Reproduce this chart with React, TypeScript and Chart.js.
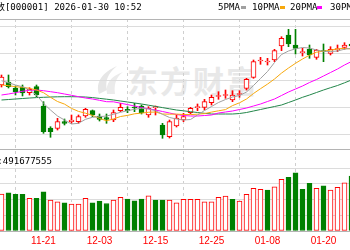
import React, { useEffect, useRef } from 'react';
import { Chart, registerables } from 'chart.js';
Chart.register(...registerables);

const DATES = ['11-13','11-14','11-17','11-18','11-19','11-20','11-21','11-24','11-25','11-26','11-27','11-28','12-01','12-02','12-03','12-04','12-05','12-08','12-09','12-10','12-11','12-12','12-15','12-16','12-17','12-18','12-19','12-22','12-23','12-24','12-25','12-26','12-29','12-30','12-31','01-05','01-06','01-07','01-08','01-09','01-12','01-13','01-14','01-15','01-16','01-19','01-20','01-21','01-22','01-23','01-26'];

const OPEN = [3960,3972,3948,3952,3929.2,3953.2,3876,3788,3786.8,3813.2,3813.2,3813.2,3836,3857.2,3836,3829.2,3820,3857.2,3862.8,3872,3876,3840,3869.2,3800,3753.2,3796,3820,3849.2,3869.2,3870.8,3889.2,3914,3918,3900,3922,3946.8,3990.8,4056,4052,4060,4116,4160,4120,4089.2,4102.8,4070.8,4096,4086.8,4101.6,4110.8,4124];
const HIGH = [4000,4000,3956,3960,3949.2,3960,3893.2,3793.2,3826.8,3824,3840,3840,3866.8,3860,3844,3844,3860,3886.8,3873.2,3886.8,3880,3873.2,3876,3806.8,3820,3840,3846.8,3870.8,3884,3902.8,3920,3933.2,3940,3937.2,3937.2,3986.8,4060,4070.8,4066.8,4102.8,4153.2,4182.8,4182.8,4106.8,4120,4102.8,4124,4113.2,4120,4129.2,4140];
const LOW = [3952,3948,3920,3916,3920,3913.2,3766.8,3750.8,3780,3800,3806.8,3806.8,3830.8,3833.2,3816,3806.8,3813.2,3853.2,3849.2,3853.2,3844,3830.8,3840,3746.8,3748,3792,3813.2,3844,3857.2,3860,3880,3902.8,3906.8,3893.2,3910.8,3940,3986.8,4042.8,4040,4053.2,4097.2,4113.2,4084,4076,4066.8,4062.8,4053.2,4080,4093.2,4102.8,4108];
const CLOSE = [3992,3953.2,3933.2,3928,3942.8,3920,3773.2,3773.2,3813.2,3806.8,3820,3833.2,3862.8,3840,3822.8,3822.8,3849.2,3870.8,3857.2,3868,3849.2,3866.8,3873.2,3760,3813.2,3828,3833.2,3866.8,3872,3893.2,3910.8,3916.8,3920.8,3920,3924.8,3982.8,4053.2,4058,4054,4097.2,4146.8,4124,4106.8,4090.8,4080,4100,4093.2,4102.8,4103.2,4120,4116];
// 1 = closed above the previous close (volume drawn red), 0 = below (green)
const DAY_UP = [1,0,0,0,1,0,0,1,1,0,1,1,1,0,0,0,1,1,0,0,0,1,0,0,1,1,1,1,1,1,1,1,1,0,1,1,1,1,0,1,1,0,0,0,0,1,0,1,1,1,0];

const MA5 = [3977.2,3969.2,3960,3953.2,3940,3920,3886.8,3860,3836,3820,3804,3806.8,3822.8,3830.8,3833.2,3836,3842.8,3850.8,3857.2,3862.8,3866.8,3864,3857.2,3842.8,3830,3824,3820,3822,3840,3858,3874,3890,3902,3912,3918,3932,3958,3986,4014,4050,4082,4096,4104.8,4110,4108,4100,4094.8,4094,4096,4103.2,4106.8];
const MA10 = [3960,3957.2,3953.2,3950.8,3946.8,3940,3929.2,3910.8,3894,3883.6,3866.4,3854.4,3847.2,3838.4,3826.4,3816.8,3824.4,3834,3838.4,3844.8,3847.6,3850.8,3852,3844,3843.2,3843.6,3842,3841.6,3843.2,3845.6,3851.6,3856.8,3861.6,3877.6,3888.8,3904,3926,3945.2,3963.6,3984,4007.6,4028,4046.8,4064,4079.2,4091.2,4095.2,4099.6,4104.4,4106.8,4103.6];
const MA20 = [3920,3924,3929.2,3934.8,3938.8,3940,3937.2,3933.2,3929.2,3924,3918.8,3913.2,3908,3904,3898.8,3893.2,3892.8,3887.2,3881.6,3876,3870,3864.8,3860,3854,3848,3842,3838,3836,3836,3838,3840,3848,3852,3856,3862,3868,3876,3884,3894,3904,3918,3932,3944,3956,3970,3982,3996,4010,4024,4040,4054];
const MA30 = [3900,3902,3904,3906,3908,3909.6,3910.8,3912,3912.8,3913.2,3913.2,3912.8,3912,3909.6,3906.4,3903.2,3900,3896,3892,3888,3884,3879.2,3874.4,3869.6,3864.8,3860,3856.8,3853.2,3850,3846.8,3844,3844,3844,3844,3846,3850,3856,3862,3868,3874,3880,3890,3900,3910.8,3920,3930,3940,3949.2,3958,3968.8,3980];

const VOLUME = [585e6,606e6,581e6,581e6,517e6,517e6,622e6,490e6,463e6,447e6,426e6,426e6,517e6,447e6,474e6,437e6,490e6,533e6,506e6,479e6,506e6,558e6,490e6,490e6,490e6,447e6,501e6,501e6,501e6,463e6,463e6,533e6,553e6,501e6,474e6,581e6,676e6,660e6,649e6,702e6,820e6,852e6,925e6,660e6,756e6,676e6,718e6,649e6,692e6,766e6,872e6];

const TICK_DATES = ['11-21','12-03','12-15','12-25','01-08','01-20'];
const PRICE_TOP = 4224;
const PRICE_BOTTOM = 3704;
const PRICE_GRID = [4193,4085,3977,3869,3761];
const VOL_TOP = 1301600000;
const VOL_GRID = [0,250000000,500000000,750000000,1000000000];

const LEGEND = [
  { label: '5PMA', color: '#a0a0a0' },
  { label: '10PMA', color: '#f7a80c' },
  { label: '20PMA', color: '#ff00ff' },
  { label: '30PMA', color: '#23864a' },
];

const RED = '#ff0000';
const GREEN = '#008000';

export default function App() {
  const ref = useRef<HTMLCanvasElement>(null);
  useEffect(() => {
    const idx = DATES.map((_, i) => i);
    const candleUp = idx.map((i) => CLOSE[i] >= OPEN[i]);
    const line = (label: string, arr: number[], color: string) => ({
      type: 'line' as const, label, yAxisID: 'y', order: 0,
      data: idx.map((i) => ({ x: i, y: arr[i] })),
      borderColor: color, borderWidth: 1, pointRadius: 0, tension: 0,
    });
    const chart = new Chart(ref.current!, {
      type: 'bar',
      data: {
        datasets: [
          line('MA5', MA5, LEGEND[0].color),
          line('MA10', MA10, LEGEND[1].color),
          line('MA20', MA20, LEGEND[2].color),
          line('MA30', MA30, LEGEND[3].color),
          {
            type: 'bar', label: 'body', yAxisID: 'y', order: 1,
            data: idx.map((i) => ({ x: i, y: [OPEN[i], CLOSE[i]] })) as any,
            backgroundColor: idx.map((i) => (candleUp[i] ? '#ffffff' : GREEN)),
            borderColor: idx.map((i) => (candleUp[i] ? RED : GREEN)),
            borderWidth: 1, borderSkipped: false, barThickness: 5, minBarLength: 1, grouped: false,
          },
          {
            type: 'bar', label: 'wick', yAxisID: 'y', order: 2,
            data: idx.map((i) => ({ x: i, y: [LOW[i], HIGH[i]] })) as any,
            backgroundColor: idx.map((i) => (candleUp[i] ? RED : GREEN)),
            borderWidth: 0, barThickness: 1, grouped: false,
          },
          {
            type: 'bar', label: 'volume', yAxisID: 'yv', order: 1,
            data: idx.map((i) => ({ x: i, y: VOLUME[i] })) as any,
            backgroundColor: idx.map((i) => (DAY_UP[i] ? '#ffffff' : GREEN)),
            borderColor: idx.map((i) => (DAY_UP[i] ? RED : GREEN)),
            borderWidth: 1, borderSkipped: false, barThickness: 5, grouped: false,
          },
        ] as any,
      },
      options: {
        animation: false,
        responsive: false,
        maintainAspectRatio: false,
        layout: { padding: { top: 19, left: 0, right: 0, bottom: 0 } },
        plugins: { legend: { display: false }, tooltip: { enabled: false } },
        scales: {
          x: {
            type: 'linear', min: -1.5 / 7, max: 348.5 / 7, offset: false,
            afterBuildTicks: (s: any) => { s.ticks = TICK_DATES.map((d) => ({ value: DATES.indexOf(d) })); },
            afterFit: (s: any) => { s.height = 19; },
            ticks: {
              autoSkip: false, maxRotation: 0, padding: 4, color: RED,
              font: { family: 'Liberation Sans', size: 10 },
              callback: (v: any) => DATES[v as number],
            },
            grid: { color: '#cfcfcf', drawTicks: false, lineWidth: 1 },
            border: { display: false, dash: [3, 3] },
          },
          y: {
            type: 'linear', position: 'left', stack: 'panes', stackWeight: 130, weight: 2,
            min: PRICE_BOTTOM, max: PRICE_TOP,
            afterBuildTicks: (s: any) => { s.ticks = [...PRICE_GRID, PRICE_TOP].map((v) => ({ value: v })); },
            afterFit: (s: any) => { s.width = 0; },
            ticks: { display: false },
            grid: { drawTicks: false, color: (c: any) => (c.tick && c.tick.value === PRICE_TOP ? '#b4b4b4' : '#dcdcdc') },
            border: { display: false },
          },
          yv: {
            type: 'linear', position: 'left', stack: 'panes', stackWeight: 82, weight: 1,
            min: 0, max: VOL_TOP,
            afterBuildTicks: (s: any) => { s.ticks = [...VOL_GRID, VOL_TOP].map((v) => ({ value: v })); },
            afterFit: (s: any) => { s.width = 0; },
            ticks: { display: false },
            grid: { drawTicks: false, color: (c: any) => (c.tick && (c.tick.value === VOL_TOP || c.tick.value === 0) ? '#b4b4b4' : '#dcdcdc') },
            border: { display: false },
          },
        } as any,
      },
    });
    return () => chart.destroy();
  }, []);

  const legendX = [218, 252, 290, 330];
  const markX = [241, 280, 317, 358];
  const mono: React.CSSProperties = { position: 'absolute', fontFamily: '"DejaVu Sans Mono", "Noto Sans CJK SC", monospace', fontSize: 9.1, lineHeight: '12px', color: '#000', whiteSpace: 'nowrap' };

  return (
    <div style={{ position: 'fixed', left: 0, top: 0, width: 350, height: 250, overflow: 'hidden', background: '#fff' }}>
      <div style={{ position: 'absolute', left: 93, top: 64, width: 170, height: 36 }}>
        <svg width="34" height="34" viewBox="0 0 34 34" style={{ position: 'absolute', left: 0, top: 0 }}>
          <path d="M6 30 C2 18 10 8 24 2 C14 10 12 18 14 26 Z" fill="#e6e6e6" />
          <path d="M14 30 C12 20 18 12 30 8 C22 14 21 22 22 30 Z" fill="#ebebeb" />
        </svg>
        <div style={{ position: 'absolute', left: 34, top: -2, fontFamily: '"Noto Sans CJK SC"', fontWeight: 700, fontSize: 31, lineHeight: '36px', color: '#e8e8e8', letterSpacing: 2 }}>东方财富</div>
      </div>
      <canvas ref={ref} width={350} height={250} style={{ position: 'absolute', left: 0, top: 0, width: 350, height: 250 }} />
      <div style={{ ...mono, left: -31.5, top: 1 }}>上证指数[000001] 2026-01-30 10:52</div>
      {LEGEND.map((l, k) => (
        <React.Fragment key={l.label}>
          <div style={{ ...mono, left: legendX[k], top: 1 }}>{l.label}</div>
          <div style={{ position: 'absolute', left: markX[k], top: 6, width: 5, height: 3, background: l.color }} />
        </React.Fragment>
      ))}
      <div style={{ ...mono, left: -30, top: 155 }}>成交量:491677555</div>
    </div>
  );
}
